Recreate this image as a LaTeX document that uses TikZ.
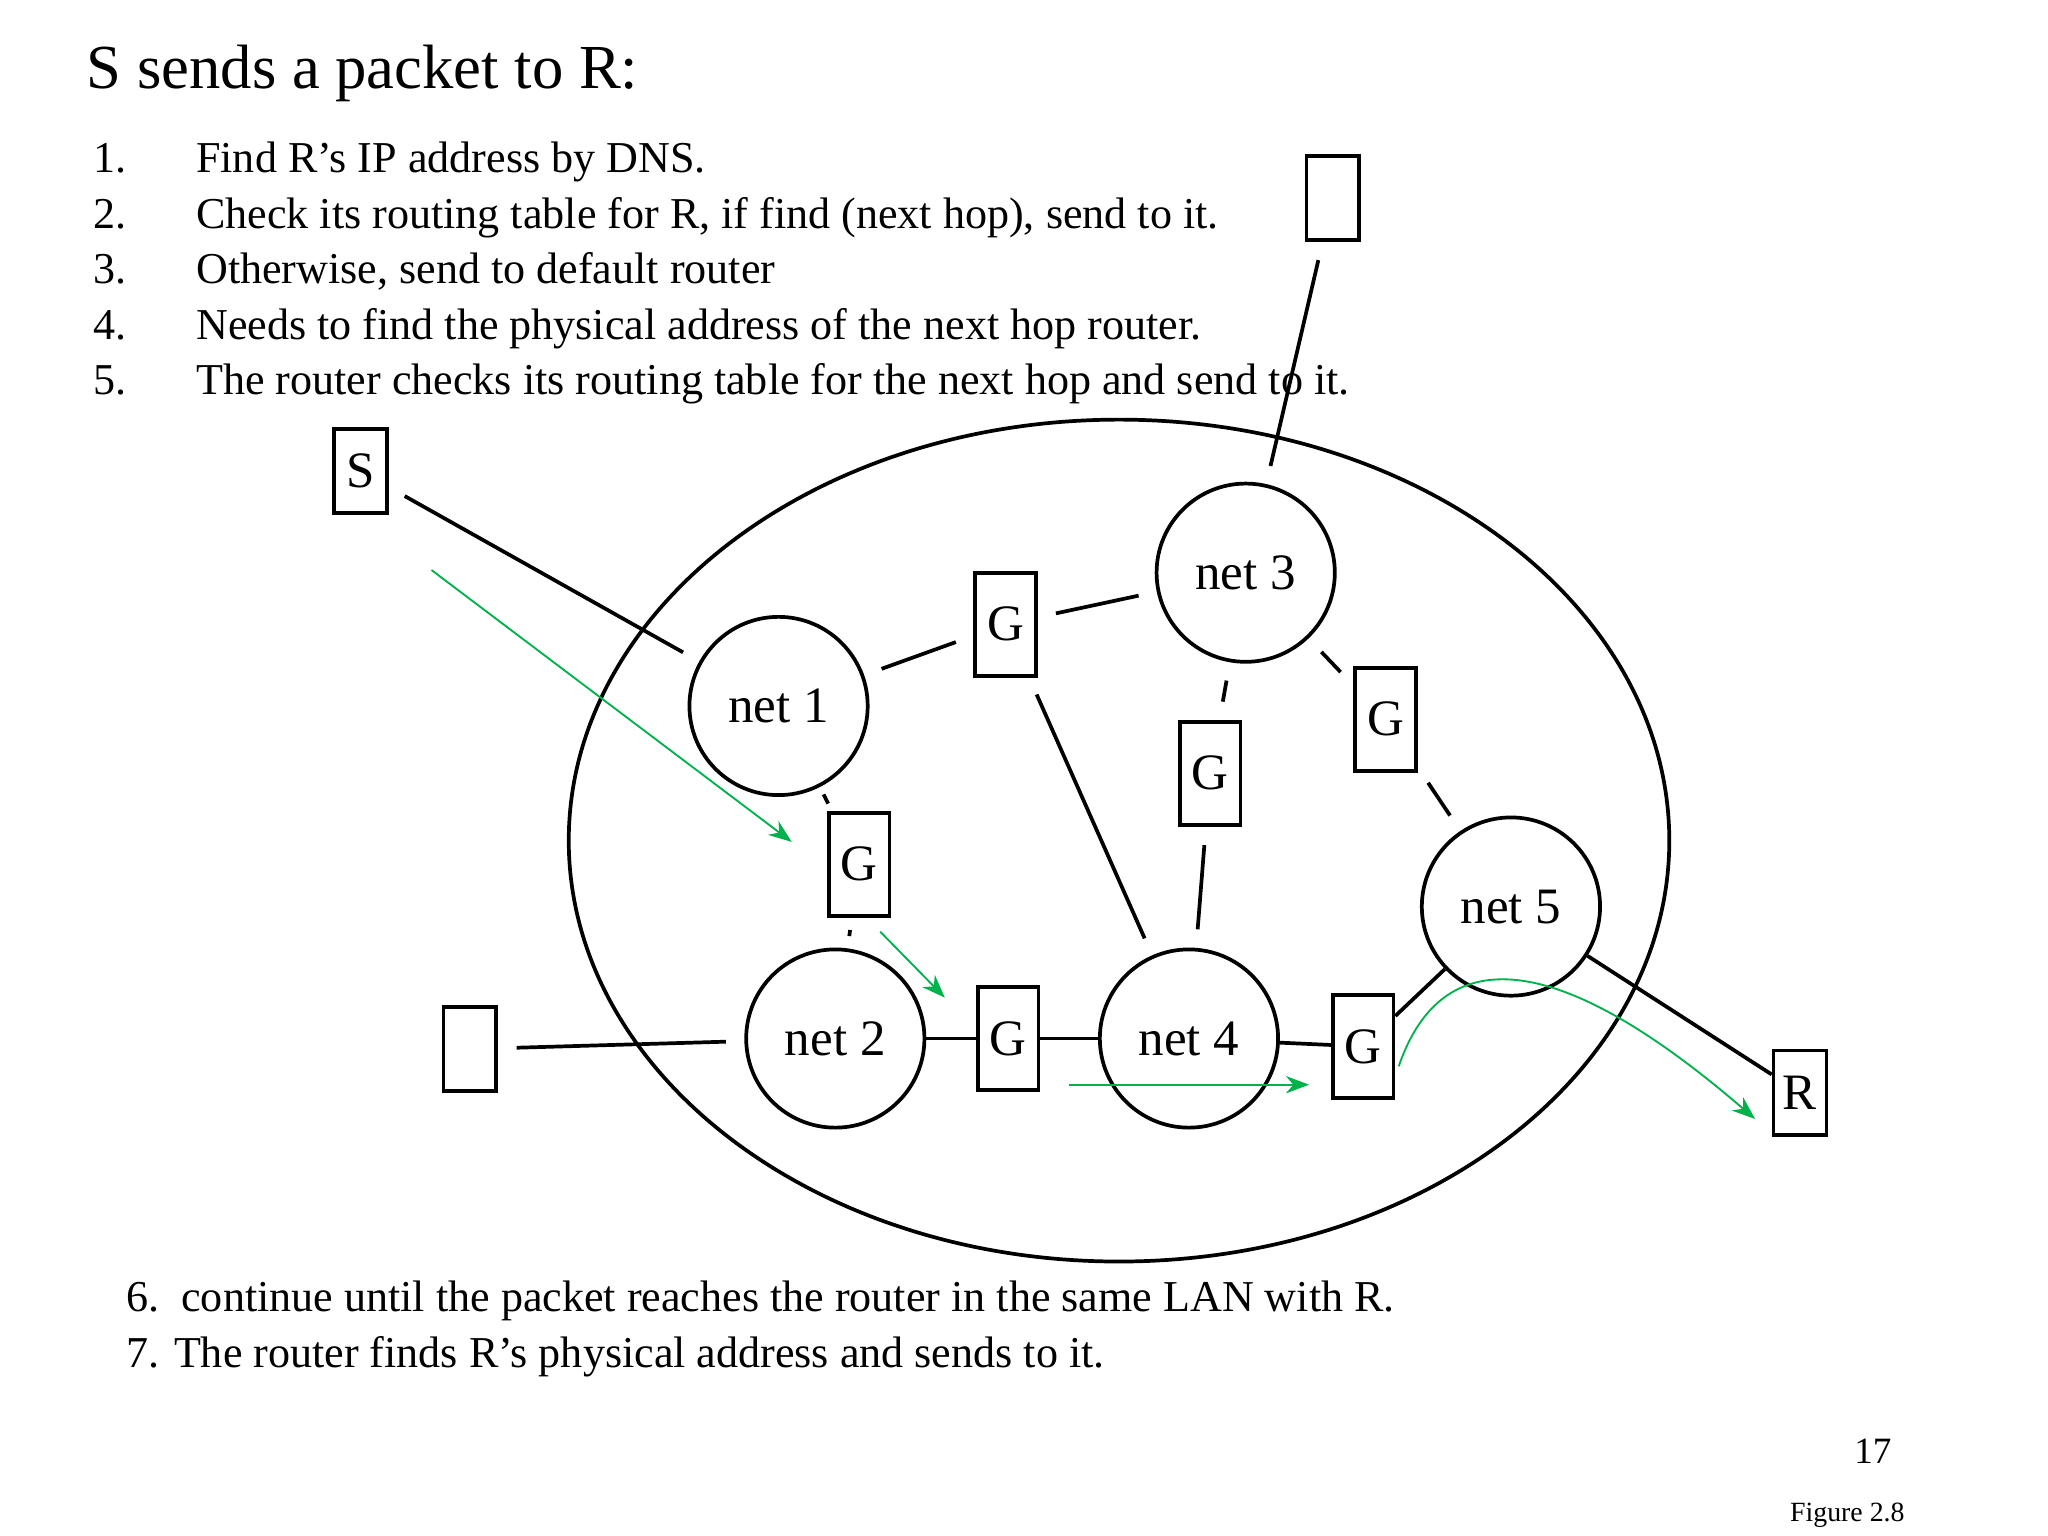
\documentclass[tikz,border=0pt]{standalone}
\usepackage{fontspec}
\setmainfont{Liberation Serif}
\usetikzlibrary{arrows.meta,calc}
\begin{document}
\begin{tikzpicture}[x=0.01cm,y=-0.01cm,
  net/.style={circle,draw,thick,minimum size=1.35cm,inner sep=0pt,font=\fontsize{11}{13}\selectfont},
  gw/.style={rectangle,draw,thick,minimum width=0.46cm,minimum height=0.78cm,inner sep=0pt,font=\fontsize{11}{13}\selectfont},
  host/.style={rectangle,draw,thick,minimum width=0.40cm,minimum height=0.64cm,inner sep=0pt,font=\fontsize{11}{13}\selectfont},
  link/.style={thick,shorten >=4pt,shorten <=4pt},
  flow/.style={draw=teal!60!green,-{Stealth[length=5pt]}},
  txt/.style={anchor=base west,inner sep=0pt,font=\fontsize{9.5}{11}\selectfont}]
\useasboundingbox (0,0) rectangle (1552,1164);
% title and list
\node[anchor=base west,inner sep=0pt,font=\fontsize{13.5}{16}\selectfont] (title) at (65,67) {S sends a packet to R:};
\foreach \n/\t [count=\i] in {1/{Find R’s IP address by DNS.},
  2/{Check its routing table for R, if find (next hop), send to it.},
  3/{Otherwise, send to default router},
  4/{Needs to find the physical address of the next hop router.},
  5/{The router checks its routing table for the next hop and send to it.}}{
  \node[txt] (num\n) at (70,{89+42*\i}) {\n.};
  \node[txt] (item\n) at (148,{89+42*\i}) {\t};
}
% internet
\draw[thick] (848,637) ellipse [x radius=417, y radius=319];
\node[net] (n1) at (590,535) {net 1};
\node[net] (n3) at (944,434) {net 3};
\node[net] (n2) at (633,787) {net 2};
\node[net] (n4) at (901,787) {net 4};
\node[net] (n5) at (1145,687) {net 5};
\node[gw] (g1) at (762,473) {G};
\node[gw] (g2) at (651,655) {G};
\node[gw] (g3) at (917,586) {G};
\node[gw] (g4) at (1050,545) {G};
\node[gw] (g5) at (764,787) {G};
\node[gw] (g6) at (1033,793) {G};
\node[host] (s) at (273,357) {S};
\node[host] (h1) at (1010,150) {};
\node[host] (h2) at (356,795) {};
\node[host] (r) at (1364,828) {R};
% links
\draw[link] (s) -- (n1);
\draw[link] (h1) -- (n3);
\draw[link] (n1) -- (g1);
\draw[link] (g1) -- (n3);
\draw[link] (g1) -- (n4);
\draw[link] (n1) -- (g2);
\draw[link] (g2) -- (n2);
\draw[link] (n3) -- (g3);
\draw[link] (g3) -- (n4);
\draw[link] (n3) -- (g4);
\draw[link] (g4) -- (n5);
\draw[link] (h2) -- (n2);
\draw[thick] (n2) -- (g5);
\draw[thick] (g5) -- (n4);
\draw[thick] (n4) -- (g6);
\draw[thick] (g6) -- (n5);
\draw[thick] (n5) -- (r);
% packet path
\coordinate (p1) at (327,432); \coordinate (p2) at (600,638);
\coordinate (p3) at (667,706); \coordinate (p4) at (716,756);
\coordinate (p5) at (810,822); \coordinate (p6) at (992,822);
\coordinate (p7) at (1060,808); \coordinate (p8) at (1330,848);
\draw[flow] (p1) -- (p2);
\draw[flow] (p3) -- (p4);
\draw[flow] (p5) -- (p6);
\draw[flow] (p7) .. controls (1090,720) and (1170,710) .. (p8);
% bottom text
\node[txt] (step6) at (95,994) {6.\ \ continue until the packet reaches the router in the same LAN with R.};
\node[txt] (step7) at (95,1036) {7. The router finds R’s physical address and sends to it.};
\node[anchor=base east,inner sep=0pt,font=\fontsize{8}{10}\selectfont] (page) at (1434,1109) {17};
\node[anchor=base east,inner sep=0pt,font=\fontsize{6}{8}\selectfont] (fig) at (1444,1153) {Figure 2.8};
\end{tikzpicture}
\end{document}
